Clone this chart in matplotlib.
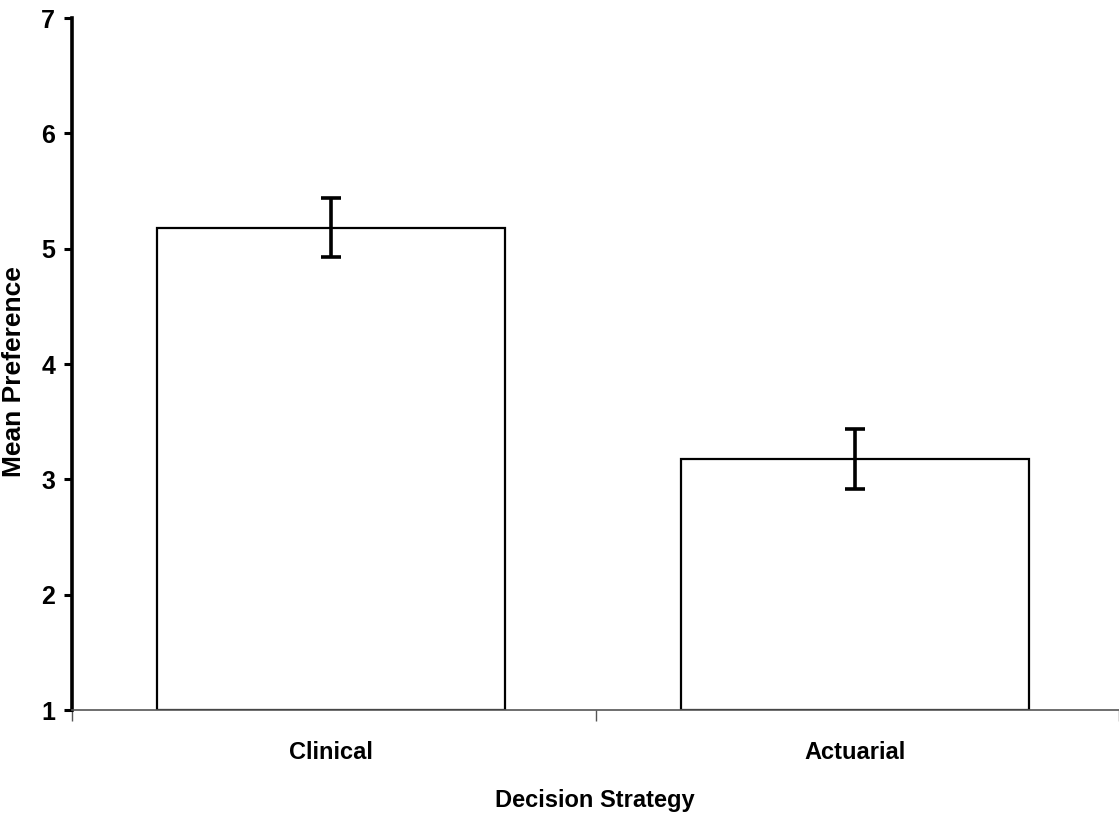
import matplotlib
matplotlib.use("Agg")
import matplotlib.pyplot as plt
import numpy as np

# data
categories = ["Clinical", "Actuarial"]
means = [5.18, 3.18]
errors = [0.255, 0.26]

plt.rcParams["font.family"] = ["Liberation Sans", "DejaVu Sans"]
plt.rcParams["font.weight"] = "bold"

fig = plt.figure(figsize=(11.19, 8.16), dpi=100)
ax = fig.add_axes([72 / 1119, 1 - 710 / 816, 1 - 72 / 1119, (710 - 18) / 816])

x = np.arange(len(categories)) + 0.495
ax.bar(x, [m - 1 for m in means], bottom=1, width=0.665, color="white",
       edgecolor="black", linewidth=1.6, zorder=2)
ax.errorbar(x, means, yerr=errors, fmt="none", ecolor="black",
            elinewidth=2.6, capsize=7, capthick=2.6, zorder=3)

ax.set_xlim(0, 2)
ax.set_ylim(1, 7)
ax.set_yticks(range(1, 8))
ax.set_xticks([0, 1, 2])
ax.set_xticklabels([])
ax.set_xticks(x, minor=True)
ax.set_xticklabels(categories, minor=True, fontsize=17, fontweight="bold")
ax.tick_params(axis="x", which="minor", length=0, pad=22)
ax.tick_params(axis="x", which="major", length=8, width=1, color="#555555")
ax.tick_params(axis="y", length=6, width=2.2, labelsize=18, pad=6)

for s in ["top", "right"]:
    ax.spines[s].set_visible(False)
ax.spines["left"].set_linewidth(2.6)
ax.spines["bottom"].set_linewidth(1.2)
ax.spines["bottom"].set_color("#555555")

fig.text(14 / 1119, 1 - 372 / 816, "Mean Preference", rotation=90,
         ha="center", va="center", fontsize=19, fontweight="bold")
fig.text(595 / 1119, 1 - 801 / 816, "Decision Strategy",
         ha="center", va="center", fontsize=17, fontweight="bold")

fig.savefig("out.png", dpi=100)
